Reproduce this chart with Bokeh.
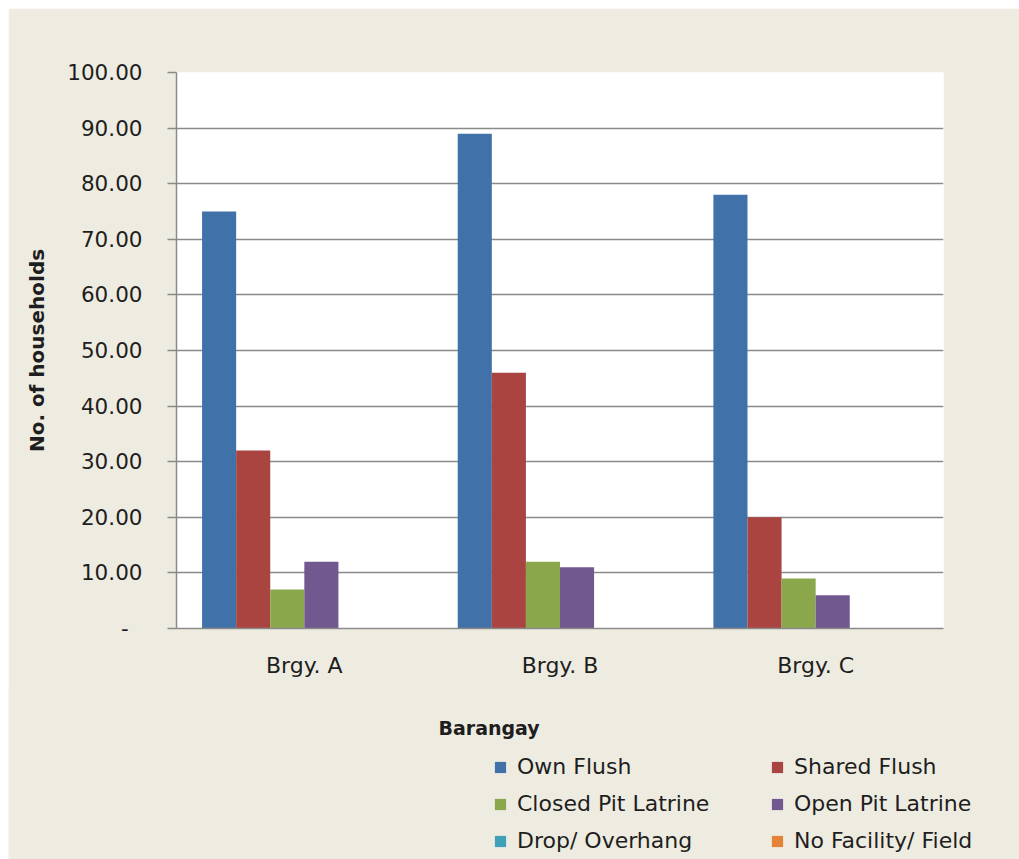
from bokeh.plotting import figure
from bokeh.models import (FactorRange, Range1d, FixedTicker, CustomJSTickFormatter,
                          Legend, LegendItem, Label, ColumnDataSource, Spacer)
from bokeh.layouts import column, row
from bokeh.transform import dodge
from bokeh.embed import file_html
from bokeh.resources import INLINE

# ---- data ----
barangays = ["Brgy. A", "Brgy. B", "Brgy. C"]
series_names = ["Own Flush", "Shared Flush", "Closed Pit Latrine",
                "Open Pit Latrine", "Drop/ Overhang", "No Facility/ Field"]
own_flush = [75, 89, 78]
shared_flush = [32, 46, 20]
closed_pit_latrine = [7, 12, 9]
open_pit_latrine = [12, 11, 6]
drop_overhang = [0, 0, 0]
no_facility_field = [0, 0, 0]
y_ticks = [0, 10, 20, 30, 40, 50, 60, 70, 80, 90, 100]
y_title = "No. of households"
x_title = "Barangay"

colors = ["#4071A8", "#AA4440", "#8AA74C", "#71588F", "#3FA0B8", "#E48338"]
keys = ["own", "shared", "closed", "open", "drop", "none"]
values = [own_flush, shared_flush, closed_pit_latrine, open_pit_latrine,
          drop_overhang, no_facility_field]

data = {"cat": barangays}
for k, v in zip(keys, values):
    data[k] = v
src = ColumnDataSource(data)

FONT = "DejaVu Sans"
TXT = "#1E1E1E"
GRID = "#8A8A8A"
BG = "#EEECE1"

W = 1011
H_TOP = 680
H_BOT = 172

# ---------------- main chart ----------------
p = figure(x_range=FactorRange(factors=barangays, range_padding=0),
           y_range=Range1d(0, 100),
           width=W, height=H_TOP, output_backend="svg", toolbar_location=None,
           min_border_left=168, min_border_right=76, min_border_top=64,
           min_border_bottom=60)

p.background_fill_color = "white"
p.border_fill_color = BG
p.outline_line_color = None

n = len(keys)
group = 0.8
bw = group / n
for i, (k, c) in enumerate(zip(keys, colors)):
    off = -group / 2 + bw * (i + 0.5)
    p.vbar(x=dodge("cat", off, range=p.x_range), top=k, bottom=0, width=bw,
           source=src, fill_color=c, line_color=None)

p.yaxis.ticker = FixedTicker(ticks=y_ticks)
p.yaxis.formatter = CustomJSTickFormatter(
    code="return tick == 0 ? '-\\u00a0\\u00a0' : tick.toFixed(2);")
p.yaxis.major_tick_out = 9
p.yaxis.major_tick_in = 0
p.yaxis.minor_tick_line_color = None
p.yaxis.major_tick_line_color = GRID
p.yaxis.major_tick_line_width = 1.5
p.yaxis.axis_line_color = GRID
p.yaxis.axis_line_width = 1.5
p.yaxis.major_label_text_font = FONT
p.yaxis.major_label_text_font_size = "21.5px"
p.yaxis.major_label_text_color = TXT
p.yaxis.major_label_standoff = 25
p.yaxis.axis_label = y_title
p.yaxis.axis_label_text_font = FONT
p.yaxis.axis_label_text_font_size = "20px"
p.yaxis.axis_label_text_font_style = "bold"
p.yaxis.axis_label_text_color = TXT
p.yaxis.axis_label_standoff = 15

p.xaxis.major_tick_line_color = None
p.xaxis.minor_tick_line_color = None
p.xaxis.major_tick_out = 0
p.xaxis.axis_line_color = GRID
p.xaxis.axis_line_width = 1.5
p.xaxis.major_label_text_font = FONT
p.xaxis.major_label_text_font_size = "22px"
p.xaxis.major_label_text_color = TXT
p.xaxis.major_label_standoff = 24

p.xgrid.grid_line_color = None
p.ygrid.grid_line_color = GRID
p.ygrid.grid_line_width = 1.5

# ---------------- legend strip ----------------
q = figure(x_range=FactorRange(factors=barangays, range_padding=0),
           y_range=Range1d(-H_BOT, 0),
           width=W, height=H_BOT, output_backend="svg", toolbar_location=None,
           min_border_left=0, min_border_right=0, min_border_top=0, min_border_bottom=0)
q.background_fill_color = BG
q.border_fill_color = BG
q.outline_line_color = None
q.xaxis.visible = False
q.yaxis.visible = False
q.xgrid.grid_line_color = None
q.ygrid.grid_line_color = None

proxies = []
for i, (k, c) in enumerate(zip(keys, colors)):
    off = -group / 2 + bw * (i + 0.5)
    # bars lie above this strip's y-range; only their legend swatches show
    r = q.vbar(x=dodge("cat", off, range=q.x_range), top=k, bottom=0, width=bw,
               source=src, fill_color=c, line_color=None)
    proxies.append(r)

q.add_layout(Label(x=430, y=-40, x_units="screen", y_units="data", text=x_title,
                   text_font=FONT, text_font_size="19px", text_font_style="bold",
                   text_color=TXT, text_baseline="middle", text_align="left"))

legend = Legend(items=[LegendItem(label=s, renderers=[r]) for s, r in zip(series_names, proxies)],
                location=(485, 6), orientation="horizontal", ncols=2,
                label_text_font=FONT, label_text_font_size="22px", label_text_color=TXT,
                glyph_width=14, glyph_height=14, label_standoff=10, spacing=12,
                label_width=241, padding=0, margin=0,
                border_line_color=None, background_fill_alpha=0)
q.add_layout(legend)

layout = column(Spacer(height=8, width=1019),
                row(Spacer(width=8, height=H_TOP), p),
                row(Spacer(width=8, height=H_BOT), q, styles={"margin-top": "-1px"}))

open("out.html", "w").write(file_html(layout, INLINE))
